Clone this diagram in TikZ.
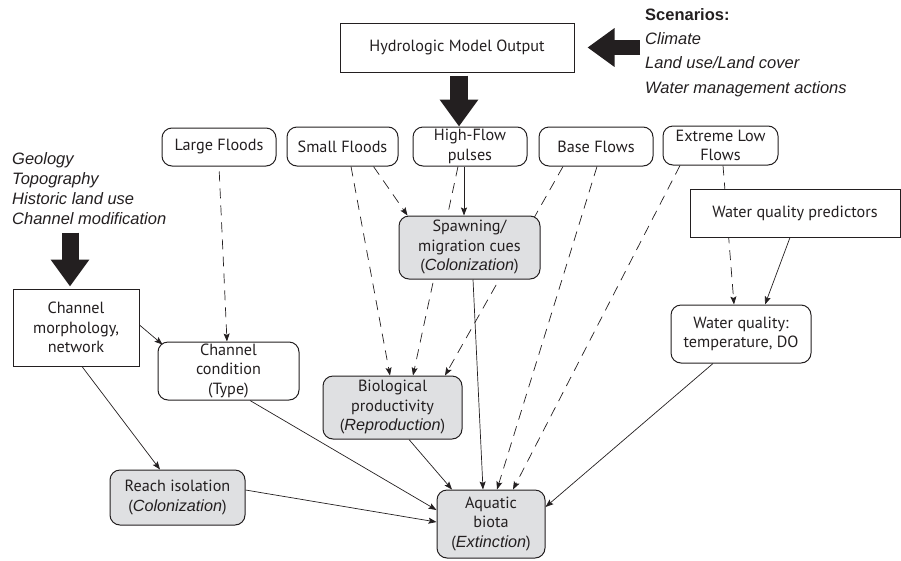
\documentclass[tikz,border=0pt]{standalone}
\usepackage{fontspec}
\setmainfont{PT Sans}
\newfontfamily\arialfont{Liberation Sans}
\usetikzlibrary{arrows.meta}
\definecolor{boxGray}{HTML}{DFE0E2}
\definecolor{inkDark}{HTML}{231F20}
\newcommand{\itx}[1]{{\arialfont\itshape #1}}
\pgfdeclarelayer{bg}
\pgfsetlayers{bg,main}

\begin{document}
\begin{tikzpicture}[x=1pt, y=-1pt, font=\fontsize{16.2}{19.5}\selectfont,
  plainbox/.style={draw=inkDark, line width=1pt, fill=white, text=inkDark, align=center, inner sep=0pt},
  roundbox/.style={plainbox, rounded corners=10pt},
  graybox/.style={roundbox, fill=boxGray},
  outertext/.style={text=inkDark, align=left, inner sep=0pt, anchor=north west},
  link/.style={draw=inkDark, line width=0.7pt, -{Stealth[length=8pt,width=6pt,inset=1.5pt]}},
  dashlink/.style={link, dash pattern=on 10pt off 7pt},
  bigarrow/.style={draw=inkDark, line width=16pt, -{Triangle[length=27pt 0 0,width=37pt 0 0]}}]
  \useasboundingbox (0,0) rectangle (901,560);
  % outside drivers
  \node[outertext, font=\arialfont\bfseries\fontsize{16.5}{20}\selectfont] (scentitle) at (645,8.5) {Scenarios:};
  \node[outertext, font=\arialfont\itshape\fontsize{16.5}{24.5}\selectfont] (scen) at (645,32) {Climate\\Land use/Land cover\\Water management actions};
  \node[outertext, font=\arialfont\itshape\fontsize{16.5}{20}\selectfont] (geo) at (12,152) {Geology\\Topography\\Historic land use\\Channel modification};
  % model and flow components
  \node[plainbox, minimum width=234pt, minimum height=49pt] (hydro) at (457,47.5) {Hydrologic Model Output};
  \node[roundbox, minimum width=114pt, minimum height=38pt] (large) at (219,147) {Large Floods};
  \node[roundbox, minimum width=111pt, minimum height=39pt] (small) at (342.5,146.5) {Small Floods};
  \node[roundbox, minimum width=114pt, minimum height=39pt] (highflow) at (470,146.5) {High-Flow\\pulses};
  \node[roundbox, minimum width=114pt, minimum height=39pt] (base) at (596,146.5) {Base Flows};
  \node[roundbox, minimum width=115pt, minimum height=39pt] (extreme) at (720.5,145.5) {Extreme Low\\Flows};
  \node[plainbox, minimum width=210pt, minimum height=48pt] (wqpred) at (795,213) {Water quality predictors};
  % habitat and response
  \node[graybox, minimum width=141pt, minimum height=63pt] (spawn) at (469.5,247.5) {Spawning/\\migration cues\\(\itx{Colonization})};
  \node[plainbox, minimum width=126pt, minimum height=77pt] (chmorph) at (76,327.5) {Channel\\morphology,\\network};
  \node[roundbox, minimum width=141pt, minimum height=58pt] (chcond) at (228.5,371) {Channel\\condition\\(Type)};
  \node[graybox, minimum width=139pt, minimum height=63pt] (bio) at (392.5,407.5) {Biological\\productivity\\(\itx{Reproduction})};
  \node[roundbox, minimum width=140pt, minimum height=58pt] (wq) at (741,334) {Water quality:\\temperature, DO};
  \node[graybox, minimum width=135pt, minimum height=55pt] (reach) at (177.5,497.5) {Reach isolation\\(\itx{Colonization})};
  \node[graybox, minimum width=108pt, minimum height=68pt] (aquatic) at (491,524) {Aquatic\\biota\\(\itx{Extinction})};
  % big arrows
  \draw[bigarrow, line width=15pt, shorten <=5pt, shorten >=13pt] (scen.west |- hydro.east) -- (hydro.east);
  \draw[bigarrow, line width=18pt, shorten <=3pt] ([xshift=2pt]hydro.south) -- ([xshift=2pt]hydro.south |- highflow.north);
  \draw[bigarrow, line width=17pt, shorten <=8pt] ([xshift=-6pt]chmorph.north |- geo.south) -- ([xshift=-6pt,yshift=2pt]chmorph.north);
  % links
  \begin{pgfonlayer}{bg}
    \draw[dashlink, shorten <=5pt] (large.south) -- ([xshift=-1.5pt]chcond.north);
    \draw[dashlink] ([xshift=31pt]small.south) -- ([xshift=-62pt]spawn.north);
    \draw[dashlink] ([xshift=8.5pt]small.south) -- ([xshift=-2.5pt]bio.north);
    \draw[link] ([xshift=-6pt]highflow.south) -- ([xshift=-5.5pt]spawn.north);
    \draw[dashlink] ([xshift=-12pt]highflow.south) -- ([xshift=20.5pt]bio.north);
    \draw[dashlink] ([xshift=-33pt]base.south) -- ([xshift=52.5pt]bio.north);
    \draw[dashlink] ([xshift=1pt]base.south) -- ([xshift=6pt]aquatic.north);
    \draw[dashlink] ([xshift=-40.5pt]extreme.south) -- ([xshift=22pt]aquatic.north);
    \draw[dashlink] ([xshift=2.5pt]extreme.south) -- ([xshift=-7pt]wq.north);
    \draw[link] ([xshift=-5pt]wqpred.south) -- ([xshift=24pt]wq.north);
    \draw[link] ([xshift=-28pt]wq.south) -- ([yshift=17pt]aquatic.east);
    \draw[link] ([xshift=3.5pt]spawn.south) -- ([xshift=-8pt]aquatic.north);
    \draw[link] ([xshift=16.5pt]bio.south) -- ([xshift=-39pt]aquatic.north);
    \draw[link] ([xshift=21.5pt]chcond.south) -- ([yshift=14pt]aquatic.west);
    \draw[link] ([yshift=7.5pt]reach.east) -- ([yshift=2pt]aquatic.west);
    \draw[link] ([yshift=2.5pt]chmorph.east) -- ([xshift=5pt,yshift=-3pt]chcond.north west);
    \draw[link] ([xshift=6pt]chmorph.south) -- ([xshift=-17.5pt]reach.north);
  \end{pgfonlayer}
\end{tikzpicture}
\end{document}
